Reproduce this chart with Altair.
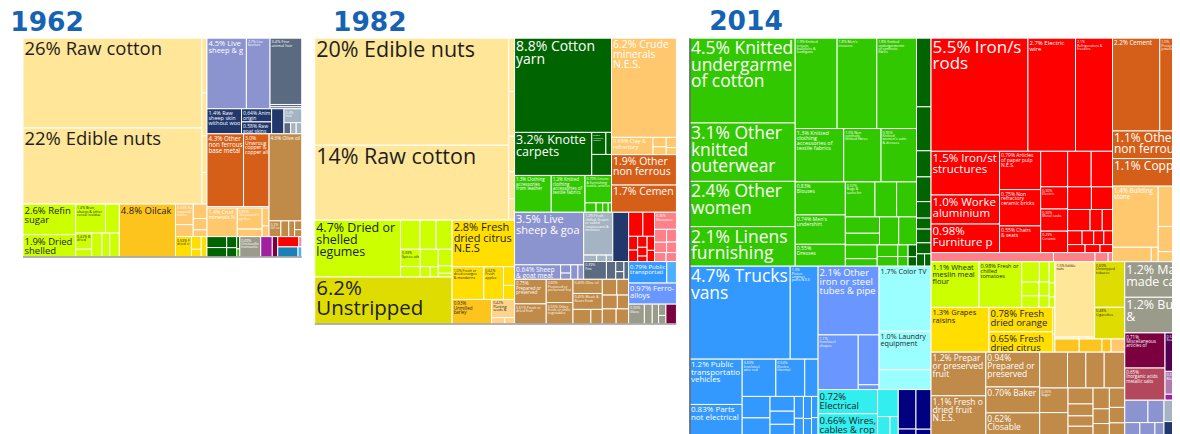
import math
import altair as alt
import pandas as pd

# ------------------------------------------------------------------ data
# Each panel: item labels, export shares (%), product group, and the nesting
# of the treemap ("h" = side by side, "v" = stacked, "*" = next item).

Y62_LABEL = [
    "26% Raw cotton", "22% Edible nuts", "", "", "", "",
    "2.6% Refined\nsugar", "1.9% Dried chickpeas\nshelled",
    "1.4% Bran,\nsharps & other\ncereal residue", "", "0.42% Bean\ndried", "", "", "", "",
    "4.8% Oilcake",
    "0.59% Raw\nvegetable &\nwaste", "", "", "", "",
    "0.53% Fresh or\ndried citrus", "", "", "",
    "4.5% Live\nsheep & goat", "2.7% Live\nbovines", "3.4% Fine\nanimal hair", "", "",
    "1.4% Raw\nsheep skin\nwithout wool", "0.64% Animal\norigin", "0.58% Raw\ngoat skins", "",
    "0.4%\nhair", "", "", "",
    "4.3% Other\nnon ferrous\nbase metals", "3.0%\nUnwrought\ncopper &\ncopper alloys", "",
    "1.4% Crude\nminerals N.E.S.", "0.85%\nUnroasted iron\npyrites", "", "", "",
    "4.6% Olive oil", "0.3%\nOil seeds", "", "", "", "",
    "", "", "", "", "", "",
    "0.69%\nUnclassified\ntransactions", "", "", "", "", "", "",
]
Y62_SHARE = [
    26, 22, 0.45, 0.35, 0.30, 0.26,
    2.6, 1.9, 1.4, 0.65, 0.42, 0.20, 0.40, 0.30, 0.37,
    4.8,
    0.59, 0.34, 0.32, 0.25, 0.15,
    0.53, 0.20, 0.12, 0.19,
    4.5, 2.7, 3.4, 0.12, 0.10,
    1.4, 0.64, 0.58, 0.50,
    0.40, 0.12, 0.10, 0.10,
    4.3, 3.0, 0.15,
    1.4, 0.85, 0.30, 0.20, 0.12,
    4.6, 0.30, 0.20, 0.15, 0.10, 0.08,
    0.35, 0.30, 0.18, 0.15, 0.06, 0.04,
    0.69, 0.38, 0.18, 0.35, 0.05, 0.33, 0.06,
]
Y62_GROUP = [
    "agri", "agri", "agri", "agri", "agri", "agri",
    "lime", "lime", "lime", "lime", "lime", "lime", "lime", "lime", "lime",
    "gold",
    "min", "min", "min", "min", "min",
    "yel", "yel", "yel", "yel",
    "anim", "anim", "slate", "slate", "slate",
    "navy", "navy", "navy", "navy",
    "gblu", "slate", "gblu", "gblu",
    "met", "met", "met",
    "min", "min", "min", "min", "min",
    "food", "food", "food", "food", "food", "food",
    "text", "text", "text", "text", "text", "garm",
    "gray", "purp", "maro", "red", "pink", "teal", "lblue",
]
Y62_TREE = """
h( v( h( v(*,*), v(*,*,*,*) ),
      h( h( v(*,*), v( h(*,*), h( v(*,*), *, *, * ) ) ),
         *,
         v( h( v(*,*), v(*,*,*) ), h( *, v(*,*), * ) ) ) ),
   v( h( h(*,*), v(*,*,*) ),
      h( *, v(*,*), *, v( *, h(*,*,*) ) ),
      h( v( h(*,*), *, h( *, v(*,*), v(*,*) ) ), v( *, h( *, *, *, v(*,*) ) ) ),
      h( h( v(*,*), v(*,*), v(*,*) ), *, h(*,*), v( h(*,*), h(*,*) ) ) ) )
"""

Y82_LABEL = [
    "20% Edible nuts", "14% Raw cotton", "", "", "", "", "",
    "4.7% Dried or\nshelled\nlegumes", "", "", "", "0.33%\nSpices other", "", "", "", "", "", "", "",
    "6.2%\nUnstripped",
    "2.8% Fresh or\ndried citrus\nN.E.S", "1.0% Fresh or\ndried oranges\n& mandarins",
    "0.62%\nFresh\napples", "", "",
    "0.93%\nUnmilled\nbarley", "0.42%\nPlanting\nseeds &", "", "",
    "8.8% Cotton\nyarn", "3.2% Knotted\ncarpets", "0.30%\nFinished\ncotton", "", "",
    "1.3% Clothing\naccessories\nfrom leather",
    "1.2% Knitted\nclothing\naccessories of\ntextile fabrics",
    "0.70% Linens\n& furnishing\ntextile articles", "", "", "", "",
    "6.2% Crude\nminerals\nN.E.S.", "0.69% Clay &\nrefractory", "", "", "", "",
    "1.9% Other\nnon ferrous", "1.7% Cement",
    "3.5% Live\nsheep & goat", "0.64% Sheep\n& goat meat", "", "", "", "",
    "1.2% Fresh,\nchilled, frozen\nor salted\ncrustaceans &\nmolluscs", "", "", "",
    "", "0.39%\nFine", "", "", "", "",
    "0.75%\nPrepared or\npreserved", "0.61% Fresh or\ndried fruit",
    "0.60%\nPrepared or\npreserved fruit", "0.55% Other\nfresh or chilled\nvegetables",
    "0.40% Olive oil", "0.45% Meals &\nflours from", "", "",
    "", "", "", "", "", "",
    "", "", "", "", "", "", "", "", "",
    "0.36%\nGlassware", "", "", "", "", "", "",
    "0.79% Public\ntransportation", "", "0.97% Ferro-\nalloys",
    "0.30%\nGlass", "", "", "", "", "",
]
Y82_SHARE = [
    20, 14, 0.30, 0.25, 0.20, 0.15, 0.12,
    4.7, 0.55, 0.45, 0.45, 0.33, 0.20, 0.30, 0.10, 0.08, 0.22, 0.10, 0.05,
    6.2,
    2.8, 1.0, 0.62, 0.20, 0.15,
    0.93, 0.40, 0.08, 0.06,
    8.8, 3.2, 0.30, 0.12, 0.40,
    1.3, 1.2, 0.70, 0.10, 0.06, 0.05, 0.03,
    6.2, 0.69, 0.12, 0.10, 0.10, 0.07,
    1.9, 1.7,
    3.5, 0.64, 0.08, 0.06, 0.10, 0.08,
    1.2, 0.08, 0.06, 0.04,
    0.75, 0.39, 0.16, 0.08, 0.06, 0.08,
    0.75, 0.61, 0.60, 0.55, 0.40, 0.45, 0.25, 0.16,
    0.22, 0.18, 0.20, 0.15, 0.20, 0.18,
    0.33, 0.27, 0.12, 0.10, 0.10, 0.08, 0.05, 0.10, 0.08,
    0.36, 0.15, 0.12, 0.12, 0.10, 0.10, 0.09,
    0.79, 0.20, 0.97,
    0.30, 0.15, 0.12, 0.08, 0.06, 0.20,
]
Y82_GROUP = (
    ["agri"] * 7 + ["lime"] * 12 + ["oliv"] + ["yel"] * 5 + ["gold"] + ["lorg"] * 3
    + ["text"] * 5 + ["garm"] * 7 + ["min"] * 6 + ["met"] * 2
    + ["anim"] * 6 + ["gblu"] * 4 + ["navy"] + ["slate"] * 5
    + ["food"] * 14 + ["red"] * 9 + ["pink"] * 7
    + ["veh", "lblue", "steel"] + ["gray"] * 5 + ["maro"]
)
Y82_TREE = """
h( v( h( v(*,*), v(*,*,*,*,*) ),
      h( v( h( *, v( h(*,*,*), h( v(*,*), v(*, h(*,*)), v(*,*,*) ) ) ), * ),
         v( v( *, h( *, *, v(*,*) ) ), h( *, v( *, h(*,*) ) ) ) ) ),
   v( h( v( v( *, h( *, v( h(*,*), * ) ) ), h( *, *, v( *, h(*,*,*,*) ) ) ),
         v( v( *, h( *, v(*,*), v(*,*) ) ), v(*,*) ) ),
      h( v( h( v( *, h( *, h( v(*,*), *, * ) ) ),
               v( h( v( *, h(*,*,*) ), * ), h( *, *, v(*,*), * ) ) ),
            h( v(*,*), v(*,*), v( *, *, h(*,*) ), v( h(*,*), h(*,*), h(*,*) ) ) ),
         v( h( v( h(*,*), h( v(*,*), v(*,*,*), v(*,*) ) ),
               v( *, h( v(*,*), v(*,*) ), h(*,*) ) ),
            h(*,*), *, h( *, *, *, v(*,*), * ) ) ) ) )
"""

Y14_LABEL = [
    "4.5% Knitted\nundergarments\nof cotton", "3.1% Other\nknitted\nouterwear",
    "2.4% Other\nwomen", "2.1% Linens\nfurnishing",
    "1.9% Knitted\njerseys,\npullovers &\ncardigans", "1.8% Men's\ntrousers",
    "1.8% Knitted\nundergarments\nof synthetic\nfibres",
    "1.3% Knitted\nclothing\naccessories of\ntextile fabrics",
    "1.0% Non\nsynthetic\nknitted fibres", "0.95%\nKnitted\nwomen's suits\n& dresses",
    "0.83%\nBlouses", "0.74% Men's\nundershirt", "0.55%\nDresses",
    "0.52%\nBags &\nsacks for", "", "", "", "", "", "", "", "", "", "", "", "", "", "",
    "", "", "", "", "", "", "", "", "", "",
    "4.7% Trucks\nvans", "1.3%\nPiston\nengines\nparts N.E.S",
    "1.2% Public\ntransportation\nvehicles", "0.83% Parts of\nnot electrical",
    "0.63%\nIron/steel\nwire rod", "0.54%\nElectro\nthermal", "",
    "", "", "", "", "", "", "", "", "", "", "",
    "2.1% Other\niron or steel\ntubes & pipes", "1.1%\nIron/steel\nshapes", "", "",
    "1.7% Color TV", "1.0% Laundry\nequipment", "",
    "0.72%\nElectrical", "0.66% Wires,\ncables & rope", "", "", "",
    "", "", "", "",
    "5.5% Iron/steel\nrods", "2.7% Electric\nwire", "2.1%\nRefrigerators &\nfreezers",
    "1.5% Iron/steel\nstructures", "1.0% Worked\naluminium &", "0.98%\nFurniture parts",
    "0.79% Articles\nof paper pulp\nN.E.S.", "0.75% Non\nrefractory\nceramic bricks",
    "0.55% Chairs\n& seats",
    "", "0.30%\nElectric", "0.30%\nMetal casks", "0.29%\nCeramic",
    "", "", "", "", "", "", "", "", "", "", "", "", "", "",
    "", "", "", "",
    "2.2% Cement", "1.5%\nPrecious\njewellery", "1.1% Other\nnon ferrous", "1.1% Copper",
    "1.4% Building\nstone", "", "", "", "", "", "", "", "",
    "1.1% Wheat or\nmeslin meal or\nflour", "0.98% Fresh or\nchilled\ntomatoes",
    "", "", "", "", "", "", "", "", "",
    "1.3% Grapes\nraisins", "0.78% Fresh or\ndried oranges", "0.65% Fresh or\ndried citrus", "", "",
    "1.5% Edible\nnuts", "", "0.69%\nUnstripped\ntobacco", "0.48%\nCigarettes",
    "", "", "", "",
    "1.2% Prepared\nor preserved\nfruit", "1.1% Fresh or\ndried fruit\nN.E.S.",
    "0.94%\nPrepared or\npreserved", "0.70% Bakery", "0.62%\nClosable",
    "", "", "", "", "0.35%\nSugar", "", "", "", "", "", "", "", "", "", "", "",
    "1.2% Man\nmade carpets", "1.2% Building\n&",
    "0.71%\nMiscellaneous\narticles of", "0.65%\nInorganic acids\nmetallic salts",
    "0.52%\nSoap", "0.31%\nMal", "",
    "", "", "", "", "", "", "", "",
]
Y14_SHARE = [
    4.5, 3.1, 2.4, 2.1,
    1.9, 1.8, 1.8, 1.3, 1.0, 0.95,
    0.83, 0.74, 0.55,
    0.52, 0.38, 0.35, 0.28, 0.20, 0.27, 0.25,
    0.22, 0.12, 0.12, 0.10, 0.06, 0.05, 0.05, 0.04,
    0.50, 0.32, 0.19, 0.18, 0.12, 0.08, 0.10, 0.08, 0.05, 0.04,
    4.7, 1.3, 1.2, 0.83, 0.63, 0.54, 0.25,
    0.30, 0.25, 0.18, 0.16, 0.14, 0.10, 0.08, 0.09, 0.07, 0.07, 0.06,
    2.1, 1.1, 0.52, 0.05,
    1.7, 1.0, 0.52,
    0.72, 0.66, 0.28, 0.12, 0.08,
    0.35, 0.06, 0.30, 0.05,
    5.5, 2.7, 2.1, 1.5, 1.0, 0.98, 0.79, 0.75, 0.55,
    0.48, 0.30, 0.30, 0.29,
    0.42, 0.38, 0.27, 0.24, 0.24, 0.13, 0.11, 0.10, 0.08, 0.07, 0.06, 0.07, 0.06, 0.05,
    0.56, 0.19, 0.06, 0.02,
    2.2, 1.5, 1.1, 1.1,
    1.4, 0.28, 0.05, 0.40, 0.25, 0.10, 0.25, 0.18, 0.10,
    1.1, 0.98, 0.18, 0.10, 0.12, 0.07, 0.10, 0.06, 0.06, 0.04, 0.03,
    1.3, 0.78, 0.65, 0.03, 0.02,
    1.5, 0.04, 0.69, 0.48,
    0.16, 0.15, 0.06, 0.09,
    1.2, 1.1, 0.94, 0.70, 0.62,
    0.50, 0.33, 0.33, 0.37,
    0.35, 0.33, 0.20, 0.15, 0.13, 0.12, 0.17, 0.12, 0.10, 0.15, 0.12, 0.10,
    1.2, 1.2,
    0.71, 0.65, 0.52, 0.31, 0.08,
    0.26, 0.18, 0.10, 0.10, 0.06, 0.30, 0.15, 0.05,
]
Y14_GROUP = (
    ["garm"] * 26 + ["text"] * 2 + ["text"] * 10
    + ["veh"] * 18 + ["steel"] * 4 + ["lcyan"] * 3 + ["cyan"] * 5 + ["dnavy"] * 4
    + ["red"] * 27 + ["pink"] * 4 + ["met"] * 4 + ["min"] * 9
    + ["lime"] * 11 + ["yel"] * 5 + ["agri"] * 2 + ["oliv"] * 2
    + ["gold"] * 3 + ["min"] + ["food"] * 21
    + ["gray"] * 2 + ["maro", "rose", "dpurp", "lpurp", "purp"]
    + ["anim"] * 5 + ["gblu", "navy", "gblu"]
)
Y14_TREE = """
h( v( h( h( v(*,*,*,*),
            v( h(*,*,*), h(*,*,*),
               h( v(*,*,*), v( h(*,*,*), h( v(*,*), *, * ), h( v(*,*), v(*,*), v(*,*), v(*,*) ) ) ) ) ),
         v(*,*,*,*,*,*,*,*, h(*,*)) ),
      h( v( h(*,*), h( v(*,*), v( h(*,*,*), h( v(*,*), v(*,*,*), v(*,*), v(*,*), v(*,*) ) ) ) ),
         v( h( v( *, h( *, v(*,*) ) ), v(*,*,*) ),
            h( h( v(*,*), v( *, h(*,*) ) ), h( v(*,*), v(*,*) ) ) ) ) ),
   v( h( v( v( h(*,*,*),
               h( v(*,*,*), v(*,*,*), v(*,*,*,*), v( h(*,*), h(*,*), h(*,*,*), h(*,*,*,*), h(*,*,*) ) ) ),
            h(*,*,*,*) ),
         v( v( h(*,*), *, * ), h( v( *, h(*,*) ), v(*,*,*), v(*,*,*) ) ) ),
      h( v( h( v( h( *, *, v( h(*,*), h(*,*), h(*,*) ), v(*,*,*) ), h( *, v(*,*), v(*,*) ) ),
               v( h( v(*,*), v(*,*) ), h(*,*,*,*) ) ),
            h( v(*,*), v(*,*,*), v( h(*,*,*,*), h( v(*,*), v(*,*,*,*), v(*,*,*), v(*,*,*) ) ) ) ),
         v( v(*,*), h( v(*,*), v(*,*,*) ), h( v( h(*,*), h(*,*,*) ), v( *, h(*,*) ) ) ) ) ) )
"""

# ------------------------------------------------------------------ styles
COLORS = {
    "agri": "#ffe699", "lime": "#ccff00", "gold": "#fec41e", "yel": "#ffde00",
    "oliv": "#dedc00", "min": "#ffc86e", "lorg": "#ffd48a", "met": "#d55f18",
    "food": "#c08a48", "anim": "#8c94d0", "slate": "#5a6a80", "navy": "#22386c",
    "gblu": "#a4b4c2", "text": "#006400", "garm": "#32c800", "gray": "#9b9b8b",
    "purp": "#a020a0", "maro": "#7a0040", "red": "#ff0000", "pink": "#ff8088",
    "teal": "#1c80b8", "lblue": "#4db0ff", "veh": "#3399ff", "steel": "#6a96ff",
    "lcyan": "#9cffff", "cyan": "#33eeee", "dnavy": "#000080", "rose": "#b3485c",
    "dpurp": "#550055", "lpurp": "#b07ab0",
}
DARK_TEXT = {"agri", "lime", "gold", "yel", "oliv", "lcyan", "cyan", "lorg"}

FONT = {
    # 1962
    "26% Raw cotton": 18.5, "22% Edible nuts": 18.5, "2.6% Refined\nsugar": 9.5,
    "1.9% Dried chickpeas\nshelled": 9.5, "4.8% Oilcake": 9.5,
    "4.5% Live\nsheep & goat": 7.5, "2.7% Live\nbovines": 3.5, "3.4% Fine\nanimal hair": 4,
    "1.4% Raw\nsheep skin\nwithout wool": 5.5, "0.64% Animal\norigin": 5, "0.58% Raw\ngoat skins": 5,
    "4.3% Other\nnon ferrous\nbase metals": 6.2, "3.0%\nUnwrought\ncopper &\ncopper alloys": 5,
    "4.6% Olive oil": 4.8, "1.4% Crude\nminerals N.E.S.": 5.3,
    # 1982
    "20% Edible nuts": 21.5, "14% Raw cotton": 21.5, "4.7% Dried or\nshelled\nlegumes": 12.5,
    "6.2%\nUnstripped": 20.5, "2.8% Fresh or\ndried citrus\nN.E.S": 11,
    "8.8% Cotton\nyarn": 14, "3.2% Knotted\ncarpets": 12.5, "0.30%\nFinished\ncotton": 2.5,
    "6.2% Crude\nminerals\nN.E.S.": 10.5, "0.69% Clay &\nrefractory": 5.5,
    "1.9% Other\nnon ferrous": 10.5, "1.7% Cement": 10.5, "3.5% Live\nsheep & goat": 11,
    "0.64% Sheep\n& goat meat": 6.5, "0.79% Public\ntransportation": 6, "0.97% Ferro-\nalloys": 7.5,
    "0.75%\nPrepared or\npreserved": 4.5, "1.3% Clothing\naccessories\nfrom leather": 4.5,
    "1.2% Knitted\nclothing\naccessories of\ntextile fabrics": 4.5, "0.93%\nUnmilled\nbarley": 4.5,
    # 2014
    "4.5% Knitted\nundergarments\nof cotton": 17.5, "3.1% Other\nknitted\nouterwear": 17.5,
    "2.4% Other\nwomen": 17.5, "2.1% Linens\nfurnishing": 17.5, "4.7% Trucks\nvans": 17.5,
    "5.5% Iron/steel\nrods": 17, "1.3% Knitted\nclothing\naccessories of\ntextile fabrics": 5.5,
    "0.83%\nBlouses": 5, "0.74% Men's\nundershirt": 5.2, "0.55%\nDresses": 5.2,
    "2.7% Electric\nwire": 6, "2.2% Cement": 6.2, "1.4% Building\nstone": 6.2,
    "1.5% Iron/steel\nstructures": 11.5, "1.0% Worked\naluminium &": 11.5,
    "0.98%\nFurniture parts": 11.5, "0.79% Articles\nof paper pulp\nN.E.S.": 5,
    "0.75% Non\nrefractory\nceramic bricks": 5, "0.55% Chairs\n& seats": 5,
    "1.1% Other\nnon ferrous": 12, "1.1% Copper": 12,
    "1.2% Public\ntransportation\nvehicles": 8, "0.83% Parts of\nnot electrical": 8,
    "2.1% Other\niron or steel\ntubes & pipes": 9.5, "1.7% Color TV": 7.2,
    "1.0% Laundry\nequipment": 7.2, "0.72%\nElectrical": 9.5, "0.66% Wires,\ncables & rope": 9.5,
    "1.1% Wheat or\nmeslin meal or\nflour": 7.5, "0.98% Fresh or\nchilled\ntomatoes": 5.5,
    "1.3% Grapes\nraisins": 7.5, "0.78% Fresh or\ndried oranges": 9.5,
    "0.65% Fresh or\ndried citrus": 9.5, "1.2% Man\nmade carpets": 12.5, "1.2% Building\n&": 12.5,
    "1.2% Prepared\nor preserved\nfruit": 8.5, "1.1% Fresh or\ndried fruit\nN.E.S.": 8.5,
    "0.94%\nPrepared or\npreserved": 8.5, "0.70% Bakery": 8.5, "0.62%\nClosable": 8.5,
    "0.71%\nMiscellaneous\narticles of": 4.5, "0.65%\nInorganic acids\nmetallic salts": 4.5,
}
FONT_DEFAULT = 3.6
TITLE_COLOR = "#1763b3"


# ------------------------------------------------------------------ treemap layout
def parse(s):
    s = "".join(s.split())
    pos = 0

    def node():
        nonlocal pos
        if s[pos] == "*":
            pos += 1
            return "*"
        d = s[pos]
        pos += 2
        kids = [node()]
        while s[pos] == ",":
            pos += 1
            kids.append(node())
        pos += 1
        return (d, kids)

    return node()


def build(tree, shares):
    counter = [0]

    def attach(n):
        if n == "*":
            i = counter[0]
            counter[0] += 1
            return ("leaf", i, shares[i])
        d, kids = n
        ks = [attach(k) for k in kids]
        return (d, ks, sum(k[2] for k in ks))

    t = attach(tree)
    assert counter[0] == len(shares), (counter[0], len(shares))
    return t


def layout(t, x0, y0, x1, y1, out):
    if t[0] == "leaf":
        out.append((t[1], x0, y0, x1, y1))
        return
    d, kids, tot = t
    pos = x0 if d == "h" else y0
    for k in kids:
        f = k[2] / tot
        if d == "h":
            nx = pos + (x1 - x0) * f
            layout(k, pos, y0, nx, y1, out)
            pos = nx
        else:
            ny = pos + (y1 - y0) * f
            layout(k, x0, pos, x1, ny, out)
            pos = ny


def panel(year, labels, shares, groups, tree, w, h, title_dx, edge, vis_w=None, vis_h=None):
    """w, h: full treemap size in px; vis_w, vis_h: the part that is shown."""
    assert len(labels) == len(shares) == len(groups), (year, len(labels), len(shares), len(groups))
    vis_w = vis_w or w
    vis_h = vis_h or h
    out = []
    layout(build(parse(tree), shares), 0.0, 0.0, 1.0, 1.0, out)
    rows = []
    for i, x0, y0, x1, y1 in out:
        lab = labels[i]
        fs = FONT.get(lab, FONT_DEFAULT)
        lh = fs * 0.95
        if lab:
            lines = lab.split("\n")
            fit = max(1, int(math.floor(((y1 - y0) * h - 2.0) / lh)))
            lab = "\n".join(lines[:fit])
        rows.append(dict(x0=x0, x1=x1, y0=y0, y1=y1, fill=COLORS[groups[i]], label=lab,
                         fs=fs, lh=lh,
                         tc="#1e1e1e" if groups[i] in DARK_TEXT else "#ffffff",
                         lim=max((x1 - x0) * w - 2.5, 1.0)))
    df = pd.DataFrame(rows)
    clip = vis_w < w or vis_h < h
    xs = alt.Scale(domain=[0, vis_w / w], nice=False, zero=False)
    ys = alt.Scale(domain=[0, vis_h / h], nice=False, zero=False, reverse=True)
    rects = alt.Chart(df).mark_rect(stroke="white", strokeWidth=1, clip=clip).encode(
        x=alt.X("x0:Q", scale=xs, axis=None), x2="x1:Q",
        y=alt.Y("y0:Q", scale=ys, axis=None), y2="y1:Q",
        fill=alt.Fill("fill:N", scale=None),
    )
    texts = alt.Chart(df[df.label != ""]).mark_text(
        align="left", baseline="top", dx=1.5, dy=2, font="Open Sans", lineBreak="\n",
        ellipsis="\u200b", limit=alt.ExprRef("datum.lim"), lineHeight=alt.ExprRef("datum.lh"),
        clip=clip,
    ).encode(
        x=alt.X("x0:Q", scale=xs, axis=None),
        y=alt.Y("y0:Q", scale=ys, axis=None),
        text="label:N",
        size=alt.Size("fs:Q", scale=None),
        color=alt.Color("tc:N", scale=None),
    )
    one = pd.DataFrame({"k": [0]})
    if edge == "bottom":
        line = alt.Chart(one).mark_rule(color="#9a9a9a", strokeWidth=1.5).encode(
            x=alt.value(0), x2=alt.value(vis_w), y=alt.value(vis_h))
    else:
        line = alt.Chart(one).mark_rule(color="#666666", strokeWidth=1.5).encode(
            x=alt.value(0.5), y=alt.value(0), y2=alt.value(vis_h))
    return alt.layer(rects, texts, line).properties(
        width=vis_w, height=vis_h,
        title=alt.TitleParams(text=year, anchor="start", dx=title_dx, fontSize=26.5,
                              font="DejaVu Sans", fontWeight="bold", color=TITLE_COLOR,
                              baseline="top", offset=1.5),
    )


p62 = panel("1962", Y62_LABEL, Y62_SHARE, Y62_GROUP, Y62_TREE, 279, 219, -12, "bottom")
p82 = panel("1982", Y82_LABEL, Y82_SHARE, Y82_GROUP, Y82_TREE, 362, 286, 19, "bottom")
p14 = panel("2014", Y14_LABEL, Y14_SHARE, Y14_GROUP, Y14_TREE, 503, 398, 20, "left",
            vis_w=483, vis_h=398)

chart = (
    alt.hconcat(p62, p82, p14, spacing=13, bounds="flush")
    .properties(padding={"left": 2, "top": 1, "right": 0, "bottom": 0})
    .configure_view(strokeWidth=0)
)

chart.save("out.html", embed_options={"renderer": "svg", "actions": False})
